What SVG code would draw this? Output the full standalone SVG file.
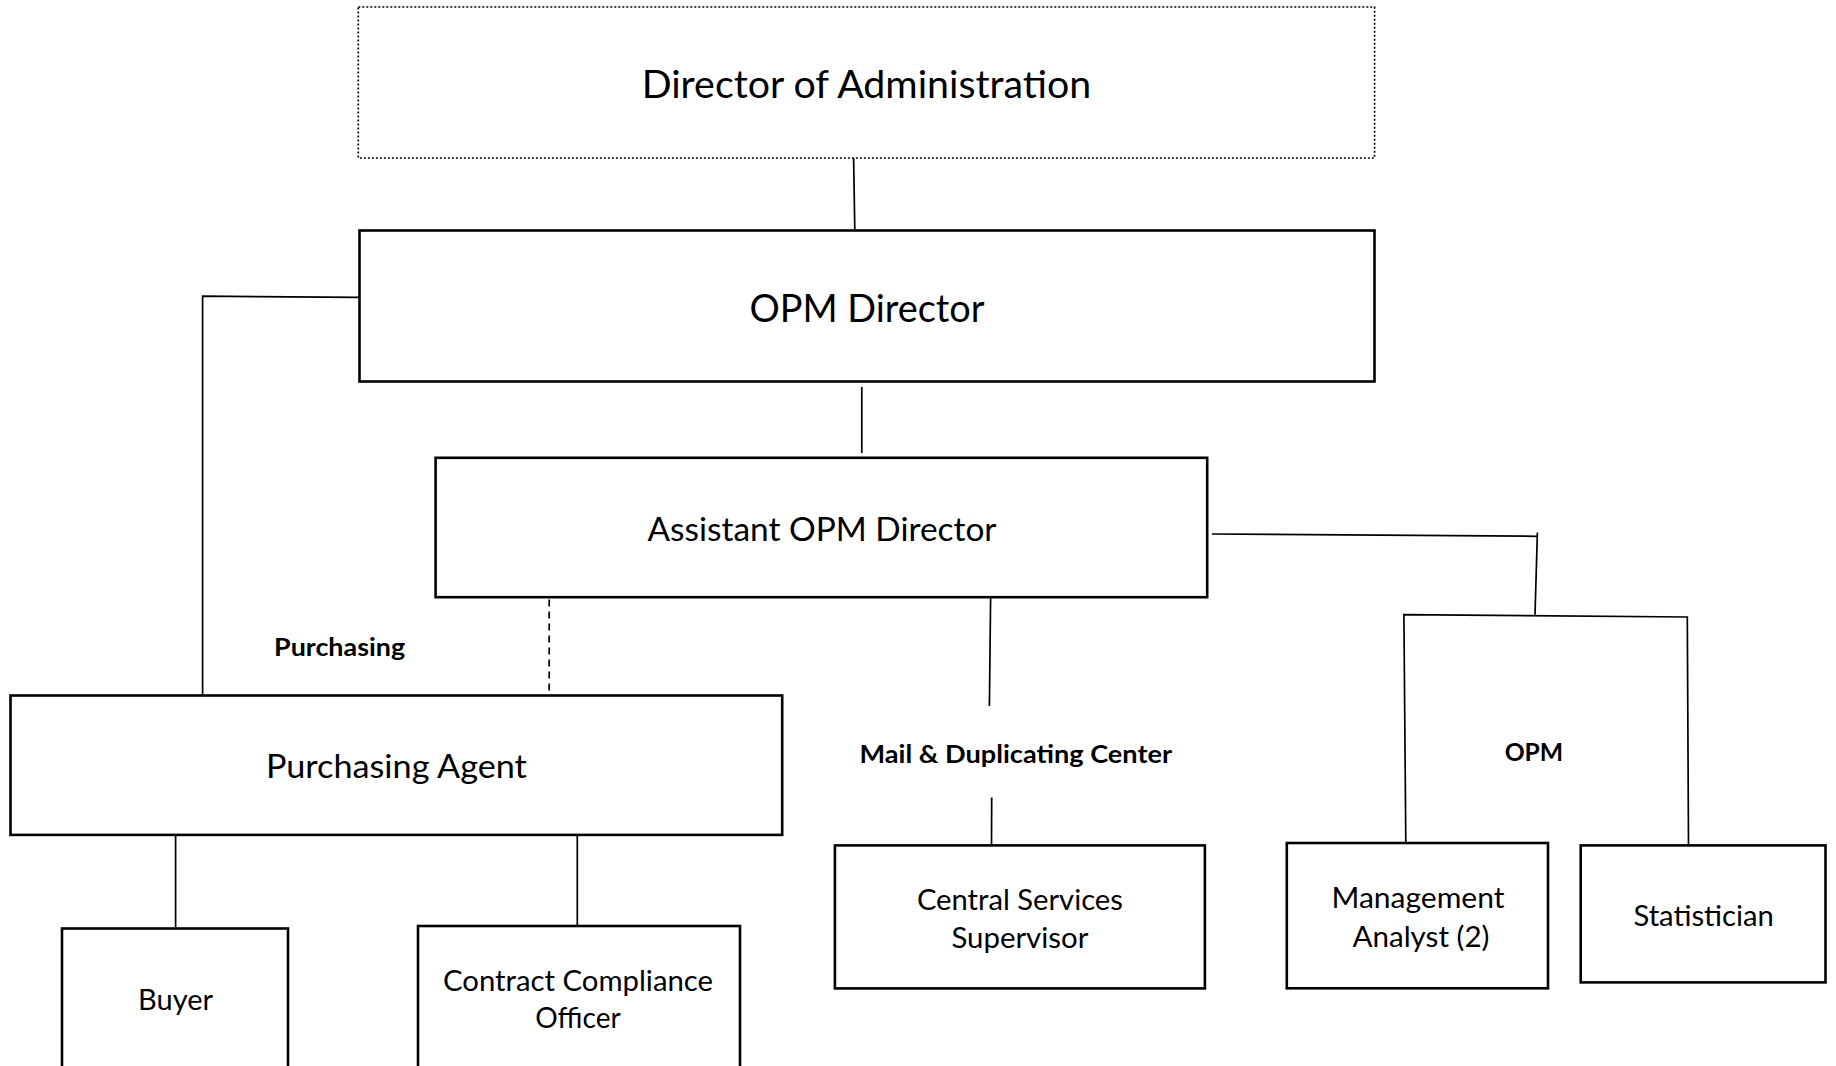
<svg xmlns="http://www.w3.org/2000/svg" width="1836" height="1066" viewBox="0 0 1836 1066">
  <style>
    .box { fill: #ffffff; stroke: #000000; stroke-width: 2.6; }
    .dotted { fill: #ffffff; stroke: #000000; stroke-width: 1.6; stroke-dasharray: 2 2; }
    .wire { fill: none; stroke: #000000; stroke-width: 1.7; }
    .dash { fill: none; stroke: #000000; stroke-width: 1.7; stroke-dasharray: 7 5; }
    text { font-family: Lato, "Open Sans", "Liberation Sans", sans-serif; fill: #000000; text-anchor: middle; }
    .t1 { font-size: 37.8px; }
    .t2 { font-size: 33.3px; }
    .t3 { font-size: 28.8px; }
    .lbl { font-size: 25.2px; font-weight: bold; }
  </style>
  <rect width="1836" height="1066" fill="#ffffff"/>

  <g id="connectors">
    <line class="wire" x1="853.6" y1="158" x2="854.8" y2="229.5"/>
    <line class="wire" x1="861.8" y1="387" x2="861.8" y2="453"/>
    <polyline class="wire" points="359.5,297.4 202.6,296.2 202.6,694.3"/>
    <line class="dash" x1="549.2" y1="599.5" x2="549.2" y2="694"/>
    <line class="wire" x1="175.6" y1="835" x2="175.6" y2="927"/>
    <line class="wire" x1="577.3" y1="835" x2="577.3" y2="925"/>
    <line class="wire" x1="990.6" y1="598.3" x2="989.4" y2="706"/>
    <line class="wire" x1="991.7" y1="797.4" x2="991.5" y2="844.2"/>
    <line class="wire" x1="1211.9" y1="534" x2="1537.4" y2="536.3" stroke-width="2"/>
    <line class="wire" x1="1537.4" y1="532.5" x2="1535" y2="614.7"/>
    <polyline class="wire" points="1405.8,842 1403.9,614.7 1687.3,617 1688.5,844.2"/>
  </g>

  <g id="labels">
    <text class="lbl" x="339.6" y="656" textLength="131" lengthAdjust="spacingAndGlyphs">Purchasing</text>
    <text class="lbl" x="1015.8" y="763" textLength="312.6" lengthAdjust="spacingAndGlyphs">Mail &amp; Duplicating Center</text>
    <text class="lbl" x="1533.9" y="761" textLength="58.5" lengthAdjust="spacingAndGlyphs">OPM</text>
  </g>

  <g id="director-of-administration">
    <rect class="dotted" x="358.3" y="7" width="1016.3" height="151"/>
    <text class="t1" x="866.5" y="98" textLength="449.6" lengthAdjust="spacingAndGlyphs">Director of Administration</text>
  </g>

  <g id="opm-director">
    <rect class="box" x="359.5" y="230.5" width="1015" height="151"/>
    <text class="t1" x="867" y="322" textLength="235" lengthAdjust="spacingAndGlyphs">OPM Director</text>
  </g>

  <g id="assistant-opm-director">
    <rect class="box" x="435.6" y="457.8" width="771.6" height="139.4"/>
    <text class="t2" x="822" y="541" textLength="349" lengthAdjust="spacingAndGlyphs">Assistant OPM Director</text>
  </g>

  <g id="purchasing-agent">
    <rect class="box" x="10.5" y="695.5" width="771.7" height="139.4"/>
    <text class="t2" x="396.4" y="778" textLength="261" lengthAdjust="spacingAndGlyphs">Purchasing Agent</text>
  </g>

  <g id="buyer">
    <rect class="box" x="62" y="928.5" width="226" height="160"/>
    <text class="t3" x="175.6" y="1010" textLength="75" lengthAdjust="spacingAndGlyphs">Buyer</text>
  </g>

  <g id="contract-compliance-officer">
    <rect class="box" x="418" y="926" width="322" height="160"/>
    <text class="t3" x="578" y="990.5" textLength="270" lengthAdjust="spacingAndGlyphs">Contract Compliance</text>
    <text class="t3" x="578" y="1027.5" textLength="85.5" lengthAdjust="spacingAndGlyphs">Officer</text>
  </g>

  <g id="central-services-supervisor">
    <rect class="box" x="834.9" y="845.4" width="370" height="143"/>
    <text class="t3" x="1019.9" y="909.5" textLength="206" lengthAdjust="spacingAndGlyphs">Central Services</text>
    <text class="t3" x="1019.9" y="948" textLength="137" lengthAdjust="spacingAndGlyphs">Supervisor</text>
  </g>

  <g id="management-analyst">
    <rect class="box" x="1286.8" y="843" width="261.2" height="145.3"/>
    <text class="t3" x="1418" y="908" textLength="173" lengthAdjust="spacingAndGlyphs">Management</text>
    <text class="t3" x="1421" y="946.5" textLength="137" lengthAdjust="spacingAndGlyphs">Analyst (2)</text>
  </g>

  <g id="statistician">
    <rect class="box" x="1580.7" y="845.4" width="244.8" height="137"/>
    <text class="t3" x="1703.7" y="926" textLength="140.5" lengthAdjust="spacingAndGlyphs">Statistician</text>
  </g>
</svg>
